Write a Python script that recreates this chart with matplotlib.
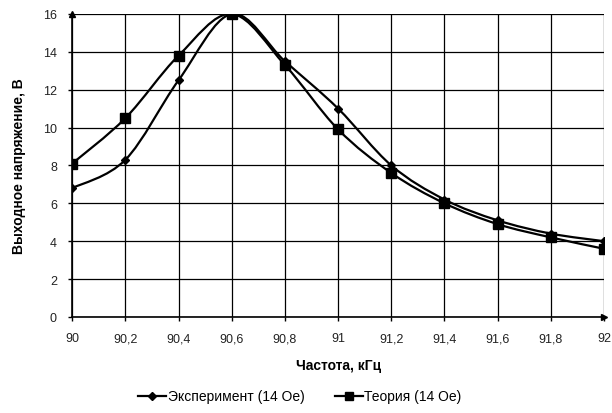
import matplotlib
matplotlib.use("Agg")
import matplotlib.pyplot as plt
import numpy as np
from matplotlib.path import Path
from matplotlib.patches import PathPatch
from matplotlib.lines import Line2D

plt.rcParams["font.family"] = ["Liberation Sans", "DejaVu Sans"]

freq = [90.0, 90.2, 90.4, 90.6, 90.8, 91.0, 91.2, 91.4, 91.6, 91.8, 92.0]
experiment = [6.8, 8.3, 12.5, 16.0, 13.5, 11.0, 8.0, 6.2, 5.1, 4.4, 4.0]
theory = [8.1, 10.5, 13.8, 16.0, 13.3, 9.9, 7.6, 6.0, 4.9, 4.2, 3.6]

x_ticks = [90.0, 90.2, 90.4, 90.6, 90.8, 91.0, 91.2, 91.4, 91.6, 91.8, 92.0]
x_labels = ["90", "90,2", "90,4", "90,6", "90,8", "91", "91,2", "91,4", "91,6", "91,8", "92"]
y_ticks = [0, 2, 4, 6, 8, 10, 12, 14, 16]


def smooth_path(xs, ys):
    """Excel-style smoothed line as cubic Bezier segments through the points."""
    pts = np.column_stack([xs, ys])
    n = len(pts)
    verts = [pts[0]]
    codes = [Path.MOVETO]
    for i in range(n - 1):
        p0 = pts[i - 1] if i > 0 else pts[i]
        p1 = pts[i]
        p2 = pts[i + 1]
        p3 = pts[i + 2] if i + 2 < n else pts[i + 1]
        c1 = p1 + (p2 - p0) / 6.0
        c2 = p2 - (p3 - p1) / 6.0
        verts += [c1, c2, p2]
        codes += [Path.CURVE4] * 3
    return Path(verts, codes)


fig = plt.figure(figsize=(6.12, 4.14), dpi=100)
ax = fig.add_axes([0.118, 0.232, 0.869, 0.732])

for ys in (experiment, theory):
    ax.add_patch(PathPatch(smooth_path(freq, ys), facecolor="none",
                           edgecolor="black", linewidth=1.6, zorder=3))

ax.plot(freq, experiment, linestyle="none", marker="D", markersize=4,
        color="black", zorder=4)
ax.plot(freq, theory, linestyle="none", marker="s", markersize=7,
        color="black", zorder=4)

ax.set_xlim(90, 92)
ax.set_ylim(0, 16)
ax.set_xticks(x_ticks)
ax.set_xticklabels(x_labels)
ax.set_yticks(y_ticks)
ax.tick_params(labelsize=9, length=3, width=1, color="black", pad=8,
               labelcolor="#222222")
ax.grid(True, color="black", linewidth=0.9)
ax.set_axisbelow(True)

for side in ("top", "right"):
    ax.spines[side].set_visible(False)
for side in ("left", "bottom"):
    ax.spines[side].set_linewidth(1.2)

# axis arrows
ax.plot(1, 0, ">k", markersize=4, transform=ax.transAxes, clip_on=False)
ax.plot(0, 1, "^k", markersize=4, transform=ax.transAxes, clip_on=False)

ax.set_xlabel("Частота, кГц", fontsize=10, fontweight="bold", labelpad=10)
ax.set_ylabel("Выходное напряжение, В", fontsize=10, fontweight="bold", labelpad=12)

handles = [
    Line2D([], [], color="black", linewidth=1.6, marker="D", markersize=4),
    Line2D([], [], color="black", linewidth=1.6, marker="s", markersize=6),
]
fig.legend(handles, ["Эксперимент (14 Oe)", "Теория (14 Oe)"],
           loc="center", bbox_to_anchor=(0.49, 0.04), ncol=2, frameon=False,
           fontsize=10, handlelength=2.0, handletextpad=0.1, columnspacing=2.2)

fig.savefig("out.png", dpi=100, facecolor="white")
